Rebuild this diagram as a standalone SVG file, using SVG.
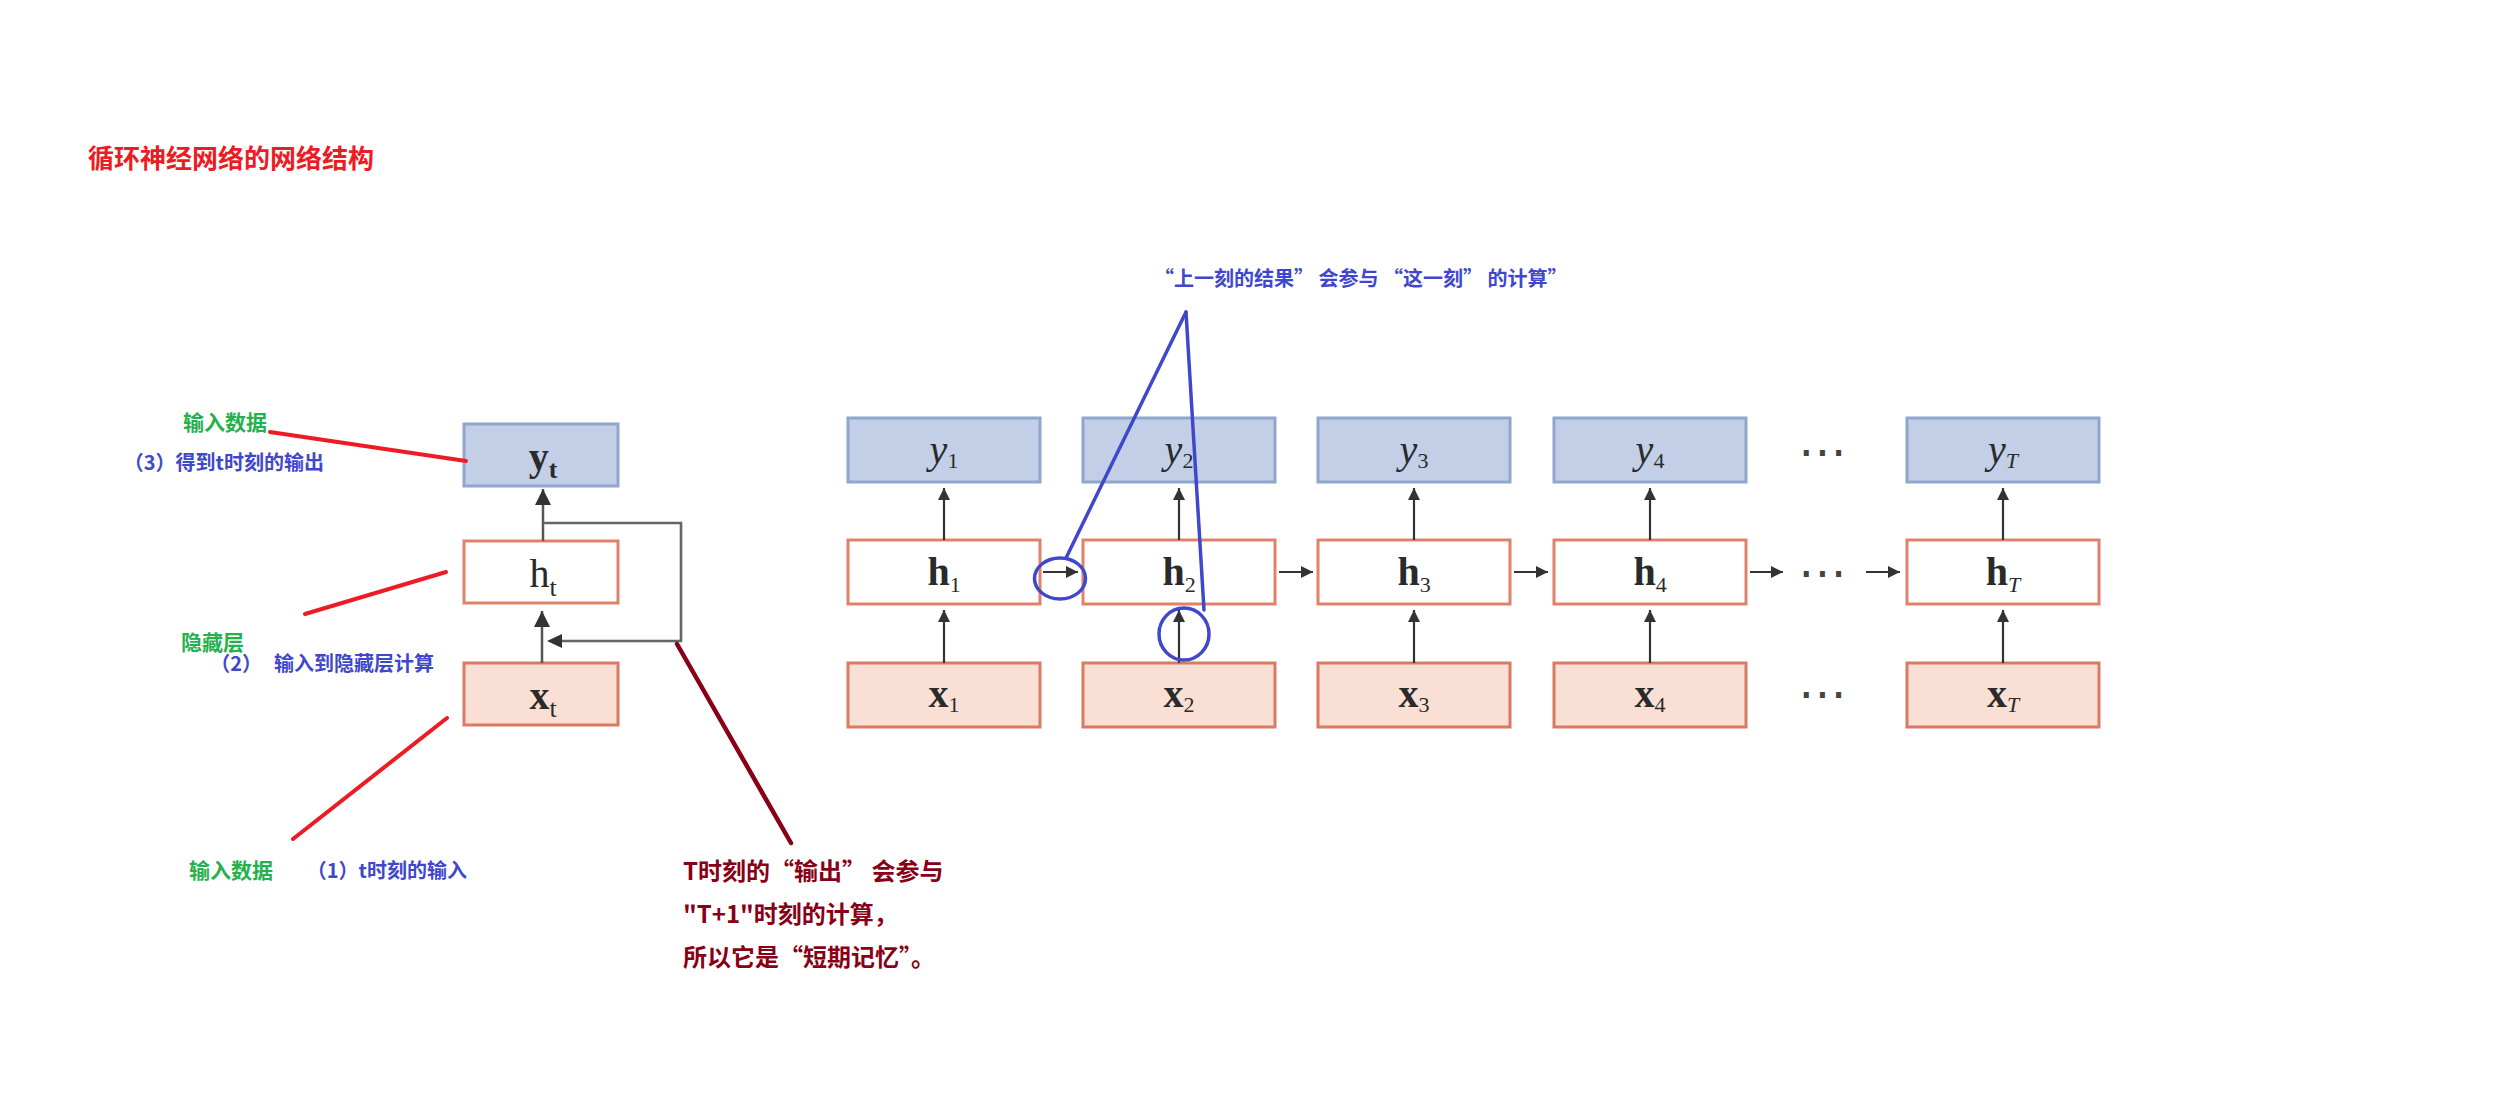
<svg xmlns="http://www.w3.org/2000/svg" width="2516" height="1115" viewBox="0 0 2516 1115">
<defs>
<style>
.cjk{font-family:"Noto Sans CJK SC","Microsoft YaHei",sans-serif;font-weight:bold;}
.green{fill:#22b14c;font-size:21px;}
.blue{fill:#3f48cc;font-size:20px;}
.dred{fill:#880015;font-size:24px;}
.boxy{fill:#c3cfe7;stroke:#8fa6cf;stroke-width:3;}
.boxh{fill:#ffffff;stroke:#e0826b;stroke-width:3;}
.boxx{fill:#fadfd4;stroke:#d97a62;stroke-width:3;}
.math{font-family:"Liberation Serif","Times New Roman",serif;font-size:40px;fill:#2a2a2a;text-anchor:middle;}
.sub{font-size:22px;}
.arr{stroke:#333;stroke-width:2.2;fill:none;marker-end:url(#ah);}
.arrL{stroke:#555;stroke-width:2.5;fill:none;}
.red{stroke:#ed1c24;stroke-width:4;stroke-linecap:round;fill:none;}
.bl{stroke:#3f48cc;stroke-width:3.5;stroke-linecap:round;fill:none;}
.dots{font-family:"DejaVu Sans",sans-serif;font-size:48px;fill:#444;text-anchor:middle;}
</style>
<marker id="ah" markerUnits="userSpaceOnUse" markerWidth="14" markerHeight="12" refX="12" refY="6" orient="auto">
<path d="M0,0 L12,6 L0,12 Z" fill="#333"/>
</marker>
<marker id="ahL" markerUnits="userSpaceOnUse" markerWidth="18" markerHeight="18" refX="16" refY="8" orient="auto">
<path d="M0,0 L16,8 L0,16 Z" fill="#333"/>
</marker>
</defs>
<rect width="2516" height="1115" fill="#ffffff"/>

<text id="title" class="cjk" x="88" y="168" fill="#ed1c24" font-size="26px">循环神经网络的网络结构</text>

<!-- left folded cell -->
<g id="node-yt">
<rect class="boxy" x="464" y="424" width="154" height="62"/>
<text class="math" x="543" y="470" font-weight="bold">y<tspan font-size="26px" dy="8">t</tspan></text>
</g>
<g id="node-ht">
<rect class="boxh" x="464" y="541" width="154" height="62"/>
<text class="math" x="543" y="587">h<tspan font-size="26px" dy="9">t</tspan></text>
</g>
<g id="node-xt">
<rect class="boxx" x="464" y="663" width="154" height="62"/>
<text class="math" x="543" y="709" font-weight="bold">x<tspan font-size="26px" dy="8" font-weight="normal">t</tspan></text>
</g>

<!-- right unrolled network -->
<g id="node-y1"><rect class="boxy" x="848" y="418" width="192" height="64"/><text class="math" x="944" y="463" font-style="italic">y<tspan class="sub" font-style="normal" dy="5">1</tspan></text></g>
<g id="node-y2"><rect class="boxy" x="1083" y="418" width="192" height="64"/><text class="math" x="1179" y="463" font-style="italic">y<tspan class="sub" font-style="normal" dy="5">2</tspan></text></g>
<g id="node-y3"><rect class="boxy" x="1318" y="418" width="192" height="64"/><text class="math" x="1414" y="463" font-style="italic">y<tspan class="sub" font-style="normal" dy="5">3</tspan></text></g>
<g id="node-y4"><rect class="boxy" x="1554" y="418" width="192" height="64"/><text class="math" x="1650" y="463" font-style="italic">y<tspan class="sub" font-style="normal" dy="5">4</tspan></text></g>
<g id="node-yT"><rect class="boxy" x="1907" y="418" width="192" height="64"/><text class="math" x="2003" y="463" font-style="italic">y<tspan class="sub" dy="5">T</tspan></text></g>

<g id="node-h1"><rect class="boxh" x="848" y="540" width="192" height="64"/><text class="math" x="944" y="585" font-weight="bold">h<tspan class="sub" font-weight="normal" dy="7">1</tspan></text></g>
<g id="node-h2"><rect class="boxh" x="1083" y="540" width="192" height="64"/><text class="math" x="1179" y="585" font-weight="bold">h<tspan class="sub" font-weight="normal" dy="7">2</tspan></text></g>
<g id="node-h3"><rect class="boxh" x="1318" y="540" width="192" height="64"/><text class="math" x="1414" y="585" font-weight="bold">h<tspan class="sub" font-weight="normal" dy="7">3</tspan></text></g>
<g id="node-h4"><rect class="boxh" x="1554" y="540" width="192" height="64"/><text class="math" x="1650" y="585" font-weight="bold">h<tspan class="sub" font-weight="normal" dy="7">4</tspan></text></g>
<g id="node-hT"><rect class="boxh" x="1907" y="540" width="192" height="64"/><text class="math" x="2003" y="585" font-weight="bold">h<tspan class="sub" font-weight="normal" font-style="italic" dy="7">T</tspan></text></g>

<g id="node-x1"><rect class="boxx" x="848" y="663" width="192" height="64"/><text class="math" x="944" y="707" font-weight="bold">x<tspan class="sub" font-weight="normal" dy="5">1</tspan></text></g>
<g id="node-x2"><rect class="boxx" x="1083" y="663" width="192" height="64"/><text class="math" x="1179" y="707" font-weight="bold">x<tspan class="sub" font-weight="normal" dy="5">2</tspan></text></g>
<g id="node-x3"><rect class="boxx" x="1318" y="663" width="192" height="64"/><text class="math" x="1414" y="707" font-weight="bold">x<tspan class="sub" font-weight="normal" dy="5">3</tspan></text></g>
<g id="node-x4"><rect class="boxx" x="1554" y="663" width="192" height="64"/><text class="math" x="1650" y="707" font-weight="bold">x<tspan class="sub" font-weight="normal" dy="5">4</tspan></text></g>
<g id="node-xT"><rect class="boxx" x="1907" y="663" width="192" height="64"/><text class="math" x="2003" y="707" font-weight="bold">x<tspan class="sub" font-weight="normal" font-style="italic" dy="5">T</tspan></text></g>

<g id="dots">
<text class="dots" x="1822" y="468">⋯</text>
<text class="dots" x="1822" y="589">⋯</text>
<text class="dots" x="1822" y="710">⋯</text>
</g>

<g id="connectors">
<line class="arrL" x1="543" y1="541" x2="543" y2="489" marker-end="url(#ahL)"/>
<line class="arrL" x1="542" y1="663" x2="542" y2="611" marker-end="url(#ahL)"/>
<polyline points="543,523 681,523 681,641 562,641" stroke="#666" stroke-width="2.6" fill="none"/>
<path d="M547,641 L562,634 L562,648 Z" fill="#333"/>
<line class="arr" x1="944" y1="540" x2="944" y2="488"/>
<line class="arr" x1="1179" y1="540" x2="1179" y2="488"/>
<line class="arr" x1="1414" y1="540" x2="1414" y2="488"/>
<line class="arr" x1="1650" y1="540" x2="1650" y2="488"/>
<line class="arr" x1="2003" y1="540" x2="2003" y2="488"/>
<line class="arr" x1="944" y1="663" x2="944" y2="610"/>
<line class="arr" x1="1179" y1="663" x2="1179" y2="610"/>
<line class="arr" x1="1414" y1="663" x2="1414" y2="610"/>
<line class="arr" x1="1650" y1="663" x2="1650" y2="610"/>
<line class="arr" x1="2003" y1="663" x2="2003" y2="610"/>
<line class="arr" x1="1043" y1="572" x2="1078" y2="572"/>
<line class="arr" x1="1279" y1="572" x2="1313" y2="572"/>
<line class="arr" x1="1514" y1="572" x2="1548" y2="572"/>
<line class="arr" x1="1750" y1="572" x2="1783" y2="572"/>
<line class="arr" x1="1866" y1="572" x2="1900" y2="572"/>
</g>

<g id="annotations-left">
<line class="red" x1="270" y1="432" x2="466" y2="461"/>
<line class="red" x1="446" y1="572" x2="305" y2="614"/>
<line class="red" x1="447" y1="718" x2="293" y2="839"/>
<text class="cjk green" x="183" y="430">输入数据</text>
<text class="cjk blue" x="324" y="470" text-anchor="end">（3）得到t时刻的输出</text>
<text class="cjk green" x="181" y="650">隐藏层</text>
<text class="cjk blue" x="434" y="671" text-anchor="end" font-size="21px">（2）<tspan dx="12">输入到隐藏层计算</tspan></text>
<text class="cjk green" x="189" y="878">输入数据</text>
<text class="cjk blue" x="467" y="878" text-anchor="end">（1）t时刻的输入</text>
</g>

<g id="annotation-memory">
<line x1="677" y1="644" x2="791" y2="843" stroke="#880015" stroke-width="4.5" stroke-linecap="round"/>
<text class="cjk dred" x="683" y="880">T时刻的“输出” 会参与</text>
<text class="cjk dred" x="683" y="923">"T+1"时刻的计算，</text>
<text class="cjk dred" x="683" y="966">所以它是“短期记忆”。</text>
</g>

<g id="annotation-recurrence">
<text class="cjk blue" x="1154" y="286" font-size="21px">“上一刻的结果” 会参与 “这一刻” 的计算”</text>
<line class="bl" x1="1186" y1="312" x2="1066" y2="558"/>
<line class="bl" x1="1186" y1="312" x2="1204" y2="610"/>
<ellipse class="bl" cx="1060" cy="578.5" rx="25.5" ry="20.5"/>
<ellipse class="bl" cx="1184" cy="634" rx="25" ry="26"/>
</g>
</svg>
